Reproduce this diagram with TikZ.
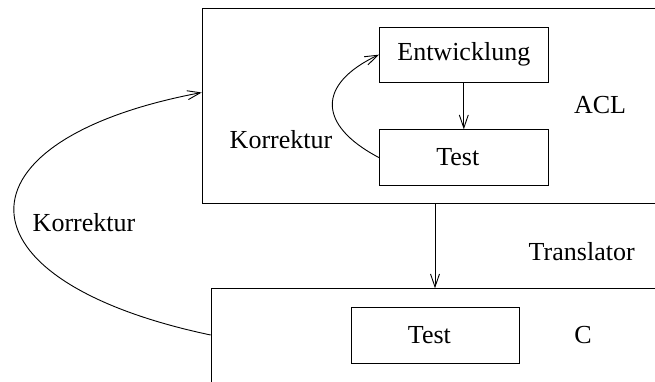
\documentclass[tikz,border=0pt]{standalone}
\usepackage{fontspec}
\setmainfont{Liberation Serif}
\usetikzlibrary{arrows.meta}
\begin{document}
\begin{tikzpicture}[x=1pt,y=-1pt,
  txt/.style={font=\fontsize{26}{30}\selectfont},
  lbl/.style={txt, inner sep=0pt},
  box/.style={txt, draw, line width=0.9pt, inner sep=0pt, anchor=north west},
  arr/.style={line width=0.9pt, -{Straight Barb[length=13pt,width=9pt,line width=0.9pt]}}]
\useasboundingbox (0,0) rectangle (655,381);
\clip (0,0) rectangle (655,381);

% outer frames: ACL level and C level (both run past the right edge)
\node[box, minimum width=520pt, minimum height=195.6pt] (acl) at (201.7,7.7) {};
\node[box, minimum width=520pt, minimum height=150pt] (cbox) at (210.7,288.3) {};

% inner boxes
\node[box, minimum width=168.7pt, minimum height=55pt] (ent) at (379,26.7) {Entwicklung};
\node[box, minimum width=168.7pt, minimum height=55.7pt] (test) at (379,129.3) {Test\hspace*{12pt}};
\node[box, minimum width=168.6pt, minimum height=56pt] (ctest) at (350.7,306.7) {Test\hspace*{12pt}};

% labels
\node[lbl] (acllbl) at (600,105) {ACL};
\node[lbl] (clbl) at (583,335) {C};
\node[lbl] (trlbl) at (581.7,251.7) {Translator};
\node[lbl] (kin) at (281,140) {Korrektur};
\node[lbl] (kout) at (84,223) {Korrektur};

% connectors
\draw[arr] (ent) -- (test);
\coordinate (tx) at (435,0);
\draw[arr] (acl.south -| tx) -- (cbox.north -| tx);
\draw[arr] (test.west) .. controls (317,125) and (317,84) .. (ent.west);
\coordinate (ostart) at (210.7,335);
\coordinate (oend) at (201.7,92.5);
\draw[arr] (ostart) .. controls (-50,280) and (-50,140) .. (oend);
\end{tikzpicture}
\end{document}
